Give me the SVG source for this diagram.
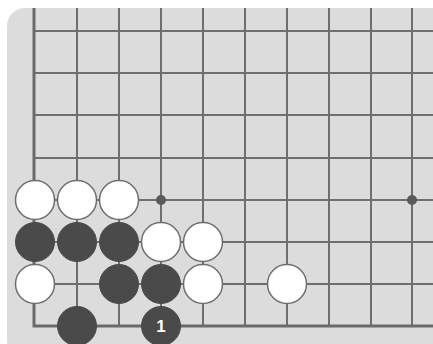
<svg xmlns="http://www.w3.org/2000/svg" width="433" height="344" viewBox="0 0 433 344">
<style>
.grid line{stroke:#6f6f6f;stroke-width:2}
.edge{stroke:#6a6a6a;stroke-width:3;fill:none}
.w{fill:#ffffff;stroke:#6f6f6f;stroke-width:1.5}
.b{fill:#4a4a4a;stroke:#4a4a4a;stroke-width:1}
.hoshi{fill:#5a5a5a}
.lbl{font-family:"Liberation Sans",Arial,sans-serif;font-weight:bold;font-size:17px;fill:#ffffff;text-anchor:middle}
</style>
<rect x="7" y="8" width="445" height="350" rx="18" fill="#dcdcdc"/>
<g id="connectors" class="grid">
<line x1="77" y1="8" x2="77" y2="326"/>
<line x1="119" y1="8" x2="119" y2="326"/>
<line x1="161" y1="8" x2="161" y2="326"/>
<line x1="203" y1="8" x2="203" y2="326"/>
<line x1="245" y1="8" x2="245" y2="326"/>
<line x1="287" y1="8" x2="287" y2="326"/>
<line x1="329" y1="8" x2="329" y2="326"/>
<line x1="371" y1="8" x2="371" y2="326"/>
<line x1="412" y1="8" x2="412" y2="326"/>
<line x1="34" y1="31" x2="433" y2="31"/>
<line x1="34" y1="73" x2="433" y2="73"/>
<line x1="34" y1="115" x2="433" y2="115"/>
<line x1="34" y1="158" x2="433" y2="158"/>
<line x1="34" y1="200" x2="433" y2="200"/>
<line x1="34" y1="242" x2="433" y2="242"/>
<line x1="34" y1="284" x2="433" y2="284"/>
<polyline class="edge" points="34,8 34,326 433,326"/>
</g>
<g id="hoshi1"><circle class="hoshi" cx="161" cy="200" r="5"/></g>
<g id="hoshi2"><circle class="hoshi" cx="412" cy="200" r="5"/></g>
<g id="w1"><circle class="w" cx="35" cy="200" r="19.5"/></g>
<g id="w2"><circle class="w" cx="77" cy="200" r="19.5"/></g>
<g id="w3"><circle class="w" cx="119" cy="200" r="19.5"/></g>
<g id="b1"><circle class="b" cx="35" cy="242" r="19.5"/></g>
<g id="b2"><circle class="b" cx="77" cy="242" r="19.5"/></g>
<g id="b3"><circle class="b" cx="119" cy="242" r="19.5"/></g>
<g id="w4"><circle class="w" cx="161" cy="242" r="19.5"/></g>
<g id="w5"><circle class="w" cx="203" cy="242" r="19.5"/></g>
<g id="w6"><circle class="w" cx="35" cy="284" r="19.5"/></g>
<g id="b4"><circle class="b" cx="119" cy="284" r="19.5"/></g>
<g id="b5"><circle class="b" cx="161" cy="284" r="19.5"/></g>
<g id="w7"><circle class="w" cx="203" cy="284" r="19.5"/></g>
<g id="w8"><circle class="w" cx="287" cy="284" r="19.5"/></g>
<g id="b6"><circle class="b" cx="77" cy="326" r="19.5"/></g>
<g id="b7"><circle class="b" cx="161" cy="326" r="19.5"/><text class="lbl" x="161" y="332">1</text></g>
</svg>
